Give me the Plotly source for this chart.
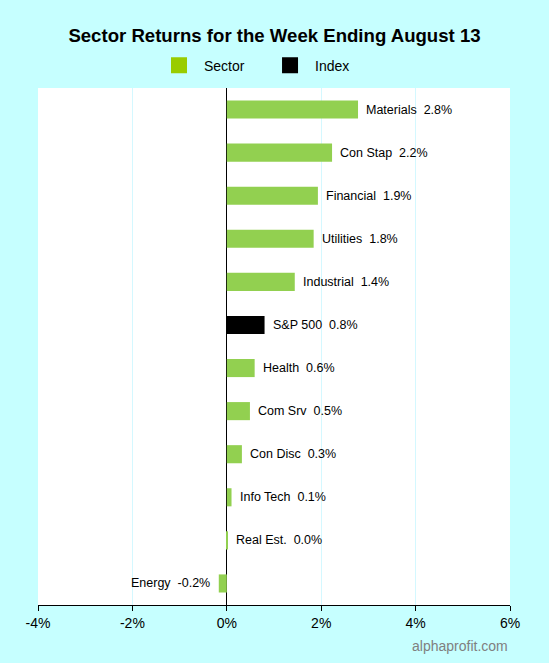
import plotly.graph_objects as go

# weekly returns, top to bottom
sectors = ["Materials", "Con Stap", "Financial", "Utilities", "Industrial", "S&P 500",
           "Health", "Com Srv", "Con Disc", "Info Tech", "Real Est.", "Energy"]
returns = [2.78, 2.23, 1.93, 1.84, 1.44, 0.80, 0.59, 0.49, 0.32, 0.10, 0.02, -0.17]
kinds = ["Sector", "Sector", "Sector", "Sector", "Sector", "Index",
         "Sector", "Sector", "Sector", "Sector", "Sector", "Sector"]

x_ticks = [-4, -2, 0, 2, 4, 6]

BAR_GREEN = "#92D050"
LEGEND_GREEN = "#99CC00"
BG = "#C6FFFF"
FONT = "Liberation Sans, Arial, sans-serif"

colors = [BAR_GREEN if k == "Sector" else "black" for k in kinds]

fig = go.Figure()
fig.add_trace(go.Bar(
    x=returns, y=sectors, orientation="h",
    marker=dict(color=colors, line=dict(width=0)),
    width=0.42, showlegend=False, hoverinfo="skip",
))

# legend swatches (trailing spaces widen the gap between items)
for name, col in [("Sector" + "\u00a0" * 4, LEGEND_GREEN), ("Index" + "\u00a0" * 10, "black")]:
    fig.add_trace(go.Scatter(
        x=[None], y=[None], mode="markers", name=name,
        marker=dict(symbol="square", size=16, color=col),
    ))

# value labels next to bar ends
for name, val in zip(sectors, returns):
    fig.add_annotation(
        x=val, y=name, text=f"{name}\u00a0 {val:.1f}%", showarrow=False,
        xanchor="left" if val >= 0 else "right",
        xshift=6 if val >= 0 else -7,
        font=dict(size=12.5, color="black", family=FONT),
    )

fig.add_annotation(
    text="alphaprofit.com", xref="paper", yref="paper", x=1, y=-0.06,
    xanchor="right", yanchor="top", showarrow=False,
    font=dict(size=14, color="#808080", family=FONT),
)

fig.update_layout(
    width=549, height=663,
    margin=dict(l=38, r=39, t=88, b=58),
    paper_bgcolor=BG, plot_bgcolor="white",
    font=dict(family=FONT, color="black"),
    title=dict(text="<b>Sector Returns for the Week Ending August 13</b>",
               x=0.5, xanchor="center", y=0.947, yanchor="middle",
               font=dict(size=18.6)),
    legend=dict(orientation="h", x=0.5, xanchor="center", y=1.043, yanchor="middle",
                font=dict(size=14), itemwidth=40, bgcolor="rgba(0,0,0,0)"),
)
fig.update_xaxes(
    range=[-4, 6], tickvals=x_ticks, ticktext=[f"{t}%" for t in x_ticks],
    showgrid=True, gridcolor="#D4F8FF", gridwidth=1,
    zeroline=True, zerolinecolor="black", zerolinewidth=1,
    showline=True, linecolor="black", linewidth=1,
    ticks="outside", ticklen=5, tickcolor="black",
    tickfont=dict(size=14),
)
fig.update_yaxes(
    autorange="reversed", showticklabels=False, showgrid=False,
    zeroline=False, showline=False, ticks="",
)

fig.write_html("out.html", config={"displayModeBar": False},
               post_script="document.body.style.margin='0';")
